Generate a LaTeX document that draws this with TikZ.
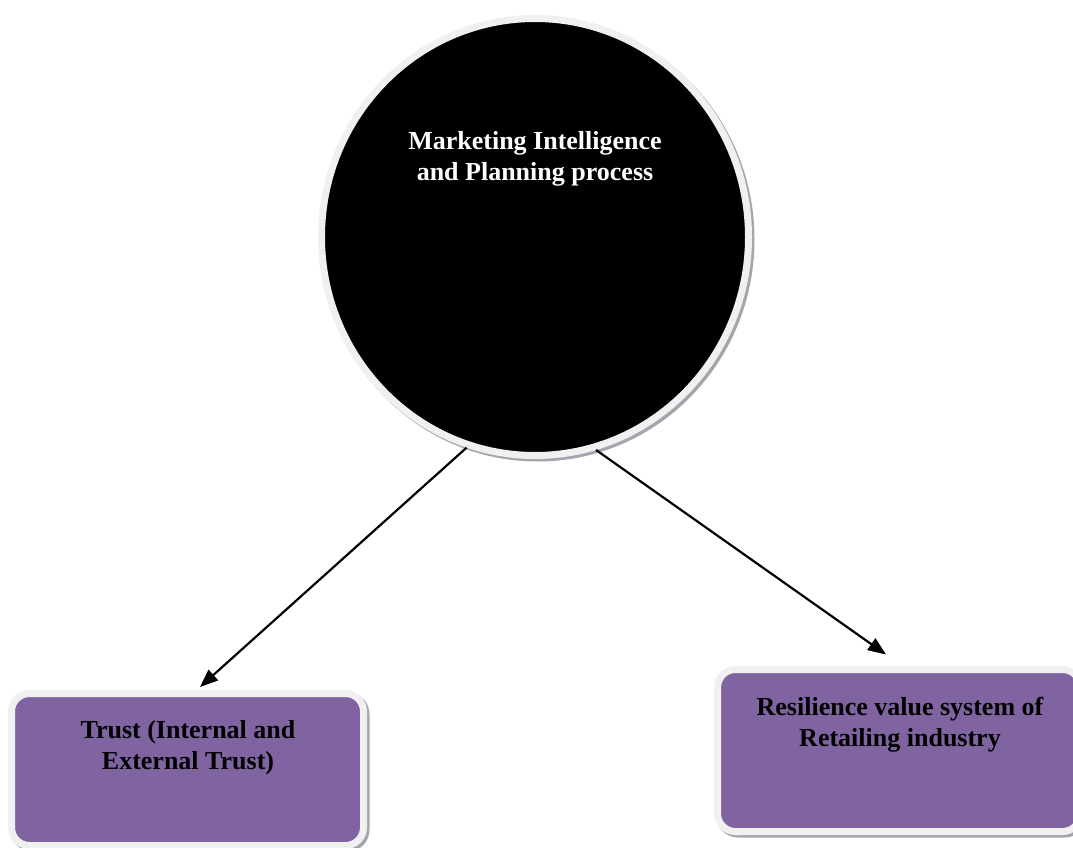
\documentclass[tikz,border=0pt]{standalone}
\usepackage{fontspec}
\setmainfont{Liberation Serif}
\usetikzlibrary{shapes.geometric,shadows,arrows.meta}
\definecolor{boxpurple}{HTML}{8064A2}
\definecolor{rimgray}{HTML}{F0F0F0}
\definecolor{shadegray}{HTML}{A8A4AE}
\begin{document}
\begin{tikzpicture}[x=1pt,y=-1pt,
  rim/.style={draw=rimgray,line width=7pt,drop shadow={shadow xshift=2.5pt,shadow yshift=-2.5pt,fill=shadegray,draw=shadegray,line width=7pt,opacity=1}},
  bigcircle/.style={rim,ellipse,fill=black,minimum width=427pt,minimum height=437pt,inner sep=0pt},
  purplebox/.style={rim,rectangle,rounded corners=18pt,fill=boxpurple,inner sep=0pt},
  lbl/.style={font=\fontsize{26}{31}\selectfont\bfseries,align=center,inner sep=0pt},
  conn/.style={line width=2.2pt,-{Triangle[length=18pt,width=14pt]}}]
\useasboundingbox (0,0) rectangle (1073,848);
\node[bigcircle] (mip) at (535,237) {};
\node[purplebox,minimum width=352pt,minimum height=152pt] (trust) at (187.5,769.5) {};
\node[purplebox,minimum width=363pt,minimum height=162pt] (res) at (899,750.5) {};
\node[lbl,text=white] (miptext) at (535,159) {Marketing Intelligence\\and Planning process};
\node[lbl] (trusttext) at (188,748) {Trust (Internal and\\External Trust)};
\node[lbl] (restext) at (900,725) {Resilience value system of\\Retailing industry};
\draw[conn] (mip.252.5) -- ([xshift=12.5pt,yshift=3pt]trust.north);
\draw[conn] (mip.286.5) -- ([xshift=-13pt,yshift=11.5pt]res.north);
\end{tikzpicture}
\end{document}
